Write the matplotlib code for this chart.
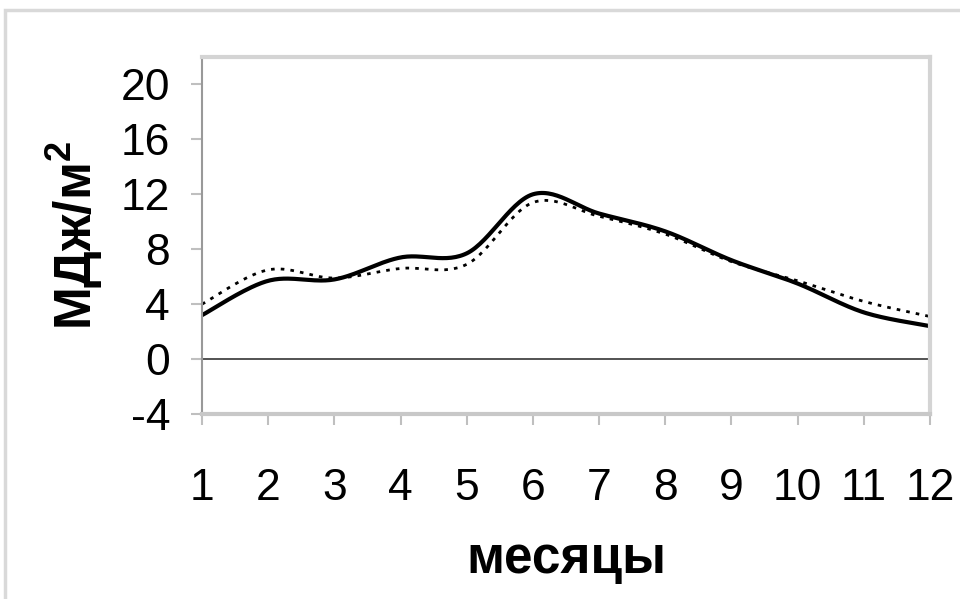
import numpy as np
import matplotlib
matplotlib.use("Agg")
import matplotlib.pyplot as plt
from matplotlib.patches import Rectangle

months = [1, 2, 3, 4, 5, 6, 7, 8, 9, 10, 11, 12]
solid_vals = [3.2, 5.7, 5.8, 7.4, 7.7, 12.0, 10.6, 9.3, 7.2, 5.5, 3.4, 2.4]
dotted_vals = [4.0, 6.5, 5.9, 6.6, 6.9, 11.4, 10.4, 9.1, 7.1, 5.7, 4.2, 3.1]
y_ticks = [-4, 0, 4, 8, 12, 16, 20]
x_label = "месяцы"
y_label = "МДж/м$^\\mathbf{2}$"


def smooth(x, y, n=30):
    # Excel-style smoothed line (Catmull-Rom Bezier through the points)
    x = np.asarray(x, float)
    y = np.asarray(y, float)
    P = np.column_stack([x, y])
    out = []
    for i in range(len(P) - 1):
        p0 = P[i - 1] if i > 0 else P[i]
        p1 = P[i]
        p2 = P[i + 1]
        p3 = P[i + 2] if i + 2 < len(P) else P[i + 1]
        c1 = p1 + (p2 - p0) / 6.0
        c2 = p2 - (p3 - p1) / 6.0
        t = np.linspace(0, 1, n, endpoint=(i == len(P) - 2))[:, None]
        b = ((1 - t) ** 3) * p1 + 3 * ((1 - t) ** 2) * t * c1 + 3 * (1 - t) * t ** 2 * c2 + t ** 3 * p2
        out.append(b)
    out = np.vstack(out)
    return out[:, 0], out[:, 1]


plt.rcParams['font.family'] = ['Liberation Sans', 'DejaVu Sans']
plt.rcParams['axes.unicode_minus'] = False
plt.rcParams['mathtext.fontset'] = 'custom'
plt.rcParams['mathtext.bf'] = 'Liberation Sans:bold'
plt.rcParams['mathtext.rm'] = 'Liberation Sans'

fig = plt.figure(figsize=(9.6, 5.99), dpi=100)
# outer frame
fig.patches.append(Rectangle((5 / 960, -0.1), 1.2, (599 - 10) / 599 + 0.1,
                             transform=fig.transFigure, fill=False,
                             edgecolor='#d9d9d9', linewidth=2.5))

ax = fig.add_axes([202 / 960, 1 - 414 / 599, (930 - 202) / 960, (414 - 57) / 599])

xs, ys = smooth(months, solid_vals)
ax.plot(xs, ys, color='black', linewidth=3.0, solid_capstyle='butt')
xd, yd = smooth(months, dotted_vals)
ax.plot(xd, yd, color='black', linewidth=2.0, linestyle=(0, (1.3, 2.2)))
ax.axhline(0, color='#444444', linewidth=1.3)

ax.set_xlim(1, 12)
ax.set_ylim(-4, 22)
ax.set_xticks(months)
ax.set_yticks(y_ticks)
ax.tick_params(axis='both', labelsize=32, colors='#bfbfbf', labelcolor='black',
               length=8, width=1.5)
ax.tick_params(axis='x', pad=31)
ax.tick_params(axis='y', pad=15)

for s in ['top', 'right']:
    ax.spines[s].set_color('#d4d4d4')
    ax.spines[s].set_linewidth(3)
ax.spines['left'].set_color('#999999')
ax.spines['left'].set_linewidth(1.5)
ax.spines['bottom'].set_color('#c8c8c8')
ax.spines['bottom'].set_linewidth(3)

ax.set_xlabel(x_label, fontsize=37, fontweight='bold', va='center')
ax.xaxis.set_label_coords(0.5, (414 - 560) / 357)
ax.set_ylabel(y_label, fontsize=37, fontweight='bold', va='center')
ax.yaxis.set_label_coords((75 - 202) / 728, 0.5)

fig.savefig("out.png", dpi=100)
